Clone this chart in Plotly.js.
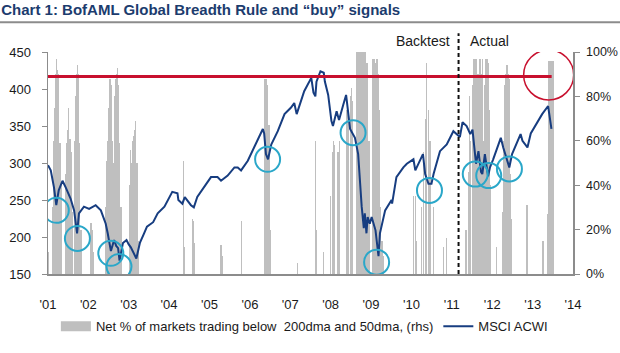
<!DOCTYPE html>
<html><head><meta charset="utf-8">
<script src="https://cdn.plot.ly/plotly-3.0.1.min.js"></script>
<style>html,body{margin:0;padding:0;background:#fff}#chart{width:620px;height:353px}</style>
</head><body><div id="chart"></div>
<script>
// MSCI ACWI (lhs)
const lineDates = ['2001-01-01','2001-01-26','2001-02-24','2001-03-17','2001-04-08','2001-05-12','2001-06-10','2001-07-24','2001-08-25','2001-09-21','2001-10-08','2001-11-22','2002-01-08','2002-03-08','2002-04-24','2002-06-07','2002-06-25','2002-07-24','2002-08-22','2002-09-10','2002-09-27','2002-10-10','2002-11-10','2002-12-12','2003-01-01','2003-01-20','2003-03-11','2003-04-12','2003-05-20','2003-06-15','2003-08-10','2003-09-20','2003-11-20','2004-01-30','2004-03-17','2004-03-25','2004-04-30','2004-05-22','2004-07-17','2004-08-12','2004-09-12','2004-11-13','2005-01-14','2005-03-14','2005-04-15','2005-06-14','2005-08-14','2005-09-13','2005-10-13','2005-12-13','2006-02-10','2006-04-28','2006-05-10','2006-05-26','2006-06-14','2006-07-13','2006-09-10','2006-11-10','2007-01-08','2007-02-06','2007-02-28','2007-05-07','2007-07-10','2007-07-30','2007-08-16','2007-08-26','2007-10-01','2007-10-31','2007-11-10','2007-12-10','2008-01-08','2008-01-22','2008-02-24','2008-03-17','2008-04-25','2008-05-20','2008-06-01','2008-06-25','2008-08-08','2008-09-06','2008-10-08','2008-10-27','2008-11-05','2008-11-20','2008-12-01','2008-12-20','2009-01-06','2009-02-10','2009-03-09','2009-03-22','2009-05-08','2009-07-05','2009-07-10','2009-08-18','2009-10-20','2009-11-20','2010-01-19','2010-02-05','2010-04-15','2010-05-05','2010-06-04','2010-07-01','2010-07-20','2010-09-16','2010-11-16','2011-01-15','2011-03-15','2011-04-08','2011-05-15','2011-06-17','2011-07-07','2011-08-08','2011-08-30','2011-09-22','2011-10-04','2011-10-27','2011-11-25','2011-12-12','2012-01-10','2012-03-01','2012-03-19','2012-04-10','2012-05-20','2012-06-04','2012-06-29','2012-09-14','2012-10-01','2012-11-15','2012-12-15','2013-01-15','2013-02-15','2013-03-28','2013-05-21','2013-06-01','2013-06-20'];
const lineValues = [297,290,267,243,263,276,267,252,236,205,232,241,238,243,236,218,205,181,196,188,185,168,192,196,190,186,171,192,205,214,220,232,241,261,259,250,245,254,243,240,254,267,281,281,276,283,294,294,290,303,321,346,340,312,305,325,343,366,375,381,366,397,415,395,390,410,424,422,410,392,357,350,370,358,379,392,377,346,334,312,241,212,232,205,227,218,227,209,174,205,236,250,245,281,294,299,305,290,312,285,272,272,285,316,325,343,335,355,350,339,345,299,316,288,285,312,282,294,305,328,334,321,300,294,312,339,330,321,340,348,357,366,377,366,346];

// Net % of markets trading below 200dma and 50dma (rhs)
const barDates = ['2001-01-08','2001-02-08','2001-02-18','2001-02-28','2001-03-10','2001-03-20','2001-03-30','2001-04-09','2001-04-19','2001-04-29','2001-06-08','2001-06-18','2001-06-28','2001-07-08','2001-07-18','2001-07-28','2001-08-07','2001-08-27','2001-09-06','2001-09-16','2001-09-26','2001-10-06','2001-10-16','2001-10-26','2002-01-25','2002-02-05','2002-02-15','2002-06-05','2002-06-15','2002-06-25','2002-07-05','2002-07-15','2002-07-25','2002-08-04','2002-08-14','2002-08-24','2002-09-03','2002-09-13','2002-09-23','2002-10-03','2002-10-13','2002-10-23','2003-01-05','2003-01-15','2003-01-25','2003-02-04','2003-02-14','2003-02-24','2003-03-06','2003-03-16','2003-03-26','2004-05-12','2004-05-22','2004-07-28','2004-08-07','2004-08-17','2005-04-15','2005-04-25','2005-10-15','2006-05-16','2006-05-26','2006-06-05','2006-06-15','2006-06-25','2006-07-05','2007-03-05','2007-08-15','2007-08-25','2007-10-25','2007-12-28','2008-01-18','2008-01-28','2008-02-07','2008-03-08','2008-03-18','2008-05-28','2008-06-07','2008-06-27','2008-07-07','2008-07-17','2008-08-26','2008-09-05','2008-09-15','2008-09-25','2008-10-05','2008-10-15','2008-10-25','2008-11-04','2008-11-14','2008-11-24','2008-12-04','2008-12-20','2009-01-18','2009-01-28','2009-02-07','2009-02-17','2009-02-27','2009-03-09','2009-03-19','2009-03-29','2009-04-10','2009-04-20','2010-01-20','2010-02-05','2010-02-18','2010-04-05','2010-04-20','2010-05-05','2010-05-18','2010-06-03','2010-06-18','2010-07-19','2010-10-18','2010-11-16','2011-05-10','2011-06-01','2011-06-10','2011-06-20','2011-07-05','2011-07-15','2011-07-25','2011-08-05','2011-08-15','2011-08-25','2011-09-05','2011-09-15','2011-09-25','2011-10-05','2011-10-15','2011-10-25','2011-11-05','2011-11-15','2011-11-25','2011-12-05','2011-12-15','2012-02-10','2012-04-05','2012-04-15','2012-04-25','2012-05-05','2012-05-15','2012-05-25','2012-06-05','2012-06-15','2012-06-25','2012-11-10','2013-04-05','2013-05-15','2013-05-25','2013-06-04','2013-06-14','2013-06-24','2013-07-04'];
const barValues = [10,30,60,75,90,97,92,90,59,40,45,59,65,75,61,55,28,60,80,90,94,90,59,20,23,20,10,30,51,60,75,88,85,60,50,80,88,90,93,85,59,30,40,56,50,60,62,65,69,50,15,51,12,25,24,14,13,8,24,88,88,85,67,67,20,5,60,20,10,35,55,60,58,55,60,74,70,80,84,78,100,100,100,100,100,100,100,100,100,95,60,60,97,97,95,97,97,90,74,30,15,8,35,35,15,30,55,70,95,74,60,30,12,16,20,46,80,60,85,97,97,97,97,90,97,97,90,97,60,85,97,97,95,74,40,12,28,60,85,90,94,90,88,45,25,31,15,27,96,96,96,96,96];

// "buy" signal circles (on MSCI ACWI)
const circleDates = ['2001-03-17','2001-09-24','2002-07-23','2002-10-05','2006-06-10','2008-07-22','2009-02-20','2010-06-13','2011-08-01','2011-12-01','2012-06-05'];
const circleValues = [236,198,178,160,305,341,166,263,285,283,292];
const alertDate = '2013-05-26';
const alertValue = 419;
const buyThreshold = 417;          // level on the MSCI ACWI axis
const thresholdEnd = '2013-06-22';
const splitDate = '2011-03-03';
const yearTicks = ['2001-01-01','2002-01-01','2003-01-01','2004-01-01','2005-01-01','2006-01-01','2007-01-01','2008-01-01','2009-01-01','2010-01-01','2011-01-01','2012-01-01','2013-01-01','2014-01-01'];
const yearLabels = ["'01","'02","'03","'04","'05","'06","'07","'08","'09","'10","'11","'12","'13","'14"];

const grey = '#BFBFBF';
const navy = '#173D80';
const axisGrey = '#8C8C8C';

const data = [
  {type:'scatter', x:[null], y:[null], mode:'lines', name:'Net % of markets trading below  200dma and 50dma, (rhs)',
   line:{color:grey, width:12}, yaxis:'y', hoverinfo:'skip'},
  {type:'bar', x:barDates, y:barValues, yaxis:'y', marker:{color:grey, line:{width:0}},
   width: 11*86400000, showlegend:false, name:'Net %'},
  {type:'scatter', mode:'lines', x:lineDates, y:lineValues, yaxis:'y2', name:'MSCI ACWI',
   line:{color:navy, width:2}}
];

const shapes = [
  {type:'line', xref:'paper', yref:'paper', x0:-48/525, x1:572/525, y0:1+30/224.7, y1:1+30/224.7, line:{color:axisGrey, width:2}},
  {type:'line', xref:'x', yref:'y2', x0:'2001-01-01', x1:thresholdEnd, y0:buyThreshold, y1:buyThreshold, line:{color:'#C8102E', width:3}},
  {type:'line', xref:'x', yref:'paper', x0:splitDate, x1:splitDate, y0:0, y1:1.085, line:{color:'#111', width:2, dash:'4px,3px'}},
  {type:'circle', xref:'x', yref:'y2', xsizemode:'pixel', ysizemode:'pixel', xanchor:alertDate, yanchor:alertValue,
   x0:-25, x1:25, y0:-25, y1:25, line:{color:'#C8102E', width:1.5}}
];
circleDates.forEach((d,i)=>{
  shapes.push({type:'circle', xref:'x', yref:'y2', xsizemode:'pixel', ysizemode:'pixel', xanchor:d, yanchor:circleValues[i],
    x0:-12.5, x1:12.5, y0:-12.5, y1:12.5, line:{color:'#2AA7C9', width:2}});
});

const layout = {
  width:620, height:353,
  margin:{l:48, r:47, t:52, b:76},
  paper_bgcolor:'#fff', plot_bgcolor:'#fff',
  font:{family:'Liberation Sans, Arial, sans-serif', size:13, color:'#1a1a1a'},
  title:{text:'Chart 1: BofAML Global Breadth Rule and “buy” signals', x:0.002, xref:'container', xanchor:'left',
    y:1-10/353, yref:'container', yanchor:'middle',
    font:{family:'"Liberation Sans Narrow", "Arial Narrow", "Liberation Sans", sans-serif', size:15, color:'#1C3C6E', weight:'bold'}},
  showlegend:true,
  legend:{orientation:'h', x:0.015, xanchor:'left', y:-0.236, yanchor:'middle', font:{size:13, color:'#1a1a1a'},
    itemwidth:30, bgcolor:'rgba(0,0,0,0)', traceorder:'normal'},
  bargap:0,
  xaxis:{type:'date', range:['2001-01-01','2014-01-01'], tickmode:'array', tickvals:yearTicks, ticktext:yearLabels,
    ticks:'', showgrid:false, zeroline:false, showline:true, linecolor:axisGrey, linewidth:1.5,
    ticklabelstandoff:18, tickfont:{size:13}},
  yaxis:{range:[0,100], side:'right', tickmode:'linear', tick0:0, dtick:20, ticksuffix:'%',
    ticks:'outside', ticklen:5, tickcolor:axisGrey, showline:true, linecolor:axisGrey, linewidth:1.5,
    showgrid:false, zeroline:false, ticklabelstandoff:4, tickfont:{size:12.5}},
  yaxis2:{range:[150,450], side:'left', overlaying:'y', tickmode:'linear', tick0:150, dtick:50,
    ticks:'outside', ticklen:5, tickcolor:axisGrey, showline:true, linecolor:axisGrey, linewidth:1.5,
    showgrid:false, zeroline:false, ticklabelstandoff:8},
  shapes:shapes,
  annotations:[
    {text:'"Buy" threshold', xref:'x', yref:'y2', x:'2004-08-07', y:451, showarrow:false,
     font:{size:14, color:'#C8102E', weight:'bold'}, xanchor:'center', yanchor:'middle'},
    {text:'Backtest', xref:'x', yref:'paper', x:splitDate, y:1+11/224.7, showarrow:false, xanchor:'right', xshift:-7,
     yanchor:'middle', font:{size:14, color:'#1a1a1a'}},
    {text:'Actual', xref:'x', yref:'paper', x:splitDate, y:1+11/224.7, showarrow:false, xanchor:'left', xshift:9,
     yanchor:'middle', font:{size:14, color:'#1a1a1a'}}
  ]
};

Plotly.newPlot('chart', data, layout, {displayModeBar:false, staticPlot:true});
</script>
</body></html>
